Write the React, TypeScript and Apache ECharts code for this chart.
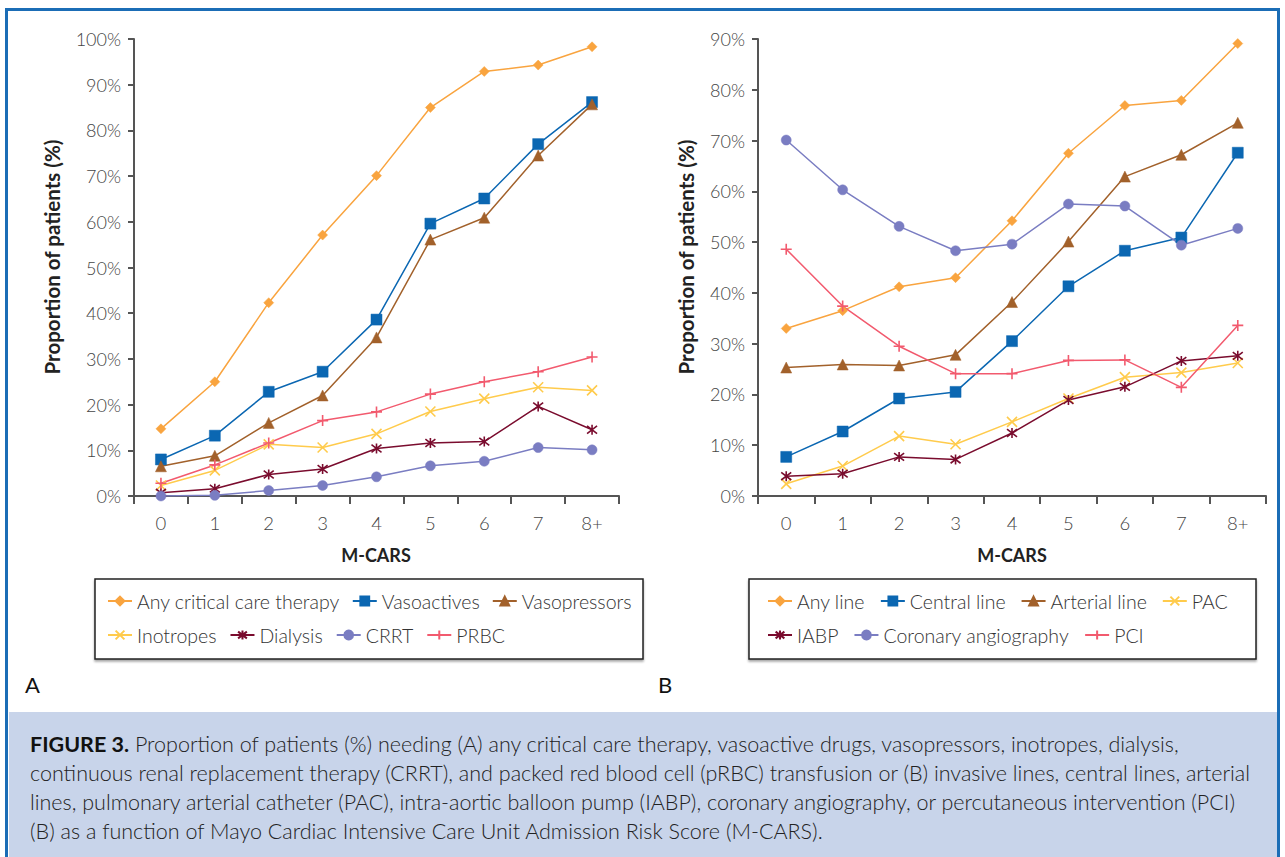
import React, { useEffect, useRef } from 'react';
import * as echarts from 'echarts';

const categories = ['0', '1', '2', '3', '4', '5', '6', '7', '8+'];

// Panel A
const anyCritical = [14.7, 25.0, 42.3, 57.1, 70.1, 85.0, 92.9, 94.3, 98.3];
const vasoactives = [8.0, 13.2, 22.8, 27.2, 38.6, 59.6, 65.1, 77.0, 86.2];
const vasopressors = [6.5, 8.8, 16.0, 22.0, 34.7, 56.1, 60.9, 74.5, 85.7];
const inotropes = [2.3, 5.6, 11.3, 10.6, 13.6, 18.5, 21.3, 23.8, 23.1];
const dialysis = [0.7, 1.6, 4.7, 5.9, 10.4, 11.6, 11.9, 19.6, 14.5];
const crrt = [0.0, 0.15, 1.2, 2.3, 4.2, 6.6, 7.6, 10.6, 10.1];
const prbc = [2.8, 6.8, 11.6, 16.5, 18.4, 22.3, 25.0, 27.2, 30.4];

// Panel B
const anyLine = [33.0, 36.5, 41.2, 43.0, 54.2, 67.5, 76.9, 77.9, 89.1];
const centralLine = [7.7, 12.7, 19.2, 20.5, 30.5, 41.3, 48.3, 50.9, 67.6];
const arterialLine = [25.3, 25.9, 25.7, 27.8, 38.2, 50.1, 62.9, 67.2, 73.5];
const pac = [2.4, 5.9, 11.8, 10.2, 14.6, 19.2, 23.4, 24.3, 26.2];
const iabp = [3.9, 4.4, 7.7, 7.2, 12.4, 18.9, 21.5, 26.6, 27.6];
const coronaryAngio = [70.1, 60.3, 53.1, 48.3, 49.6, 57.5, 57.1, 49.4, 52.7];
const pci = [48.6, 37.4, 29.5, 24.1, 24.1, 26.7, 26.8, 21.4, 33.6];

const legendA1 = ['Any critical care therapy', 'Vasoactives', 'Vasopressors'];
const legendA2 = ['Inotropes', 'Dialysis', 'CRRT', 'PRBC'];
const legendB1 = ['Any line', 'Central line', 'Arterial line', 'PAC'];
const legendB2 = ['IABP', 'Coronary angiography', 'PCI'];

const captionLines = [
  '{b|FIGURE 3.} Proportion of patients (%) needing (A) any critical care therapy, vasoactive drugs, vasopressors, inotropes, dialysis,',
  'continuous renal replacement therapy (CRRT), and packed red blood cell (pRBC) transfusion or (B) invasive lines, central lines, arterial',
  'lines, pulmonary arterial catheter (PAC), intra-aortic balloon pump (IABP), coronary angiography, or percutaneous intervention (PCI)',
  '(B) as a function of Mayo Cardiac Intensive Care Unit Admission Risk Score (M-CARS).',
];

const C_ORANGE = '#f9a43f';
const C_BLUE = '#0b67b2';
const C_BROWN = '#a2612b';
const C_YELLOW = '#ffcb4c';
const C_DARKRED = '#7a0c2e';
const C_PURPLE = '#7a7dc2';
const C_PINK = '#f25a6e';

const SYM_X = 'path://M0,0L10,10M10,0L0,10';
const SYM_AST = 'path://M1.2,1.2L8.8,8.8M8.8,1.2L1.2,8.8M5,0L5,10';
const SYM_PLUS = 'path://M0,5L10,5M5,0L5,10';

const FONT = 'Lato, "Open Sans", sans-serif';

function mk(name: string, data: number[], color: string, symbol: string, size: number, axis: number, stroke = false) {
  return {
    type: 'line',
    name,
    data,
    xAxisIndex: axis,
    yAxisIndex: axis,
    symbol,
    symbolSize: size,
    lineStyle: { color, width: 1.5 },
    itemStyle: { color, borderColor: color, borderWidth: stroke ? 1.6 : 0.5 },
    z: 3,
  };
}

function yAxis(gridIndex: number, max: number) {
  return {
    type: 'value',
    gridIndex,
    min: 0,
    max,
    interval: 10,
    axisLine: { show: true, lineStyle: { color: '#555', width: 2 } },
    axisTick: { show: true, length: 6, lineStyle: { color: '#555', width: 2 } },
    splitLine: { show: false },
    axisLabel: {
      formatter: '{value}%',
      color: '#444',
      fontFamily: FONT,
      fontSize: 18,
      fontWeight: 300,
      margin: 13,
    },
  };
}

function xAxis(gridIndex: number) {
  return {
    type: 'category',
    gridIndex,
    data: categories,
    boundaryGap: true,
    axisLine: { show: true, lineStyle: { color: '#555', width: 2 } },
    axisTick: { show: true, length: 8, interval: 0, lineStyle: { color: '#555', width: 2 } },
    axisLabel: {
      color: '#444',
      fontFamily: FONT,
      fontSize: 18.5,
      fontWeight: 300,
      margin: 17,
      interval: 0,
    },
  };
}

function legend(data: string[], left: number, top: number, itemGap: number) {
  return {
    data,
    left,
    top,
    orient: 'horizontal',
    padding: 0,
    itemGap,
    itemWidth: 24,
    itemHeight: 11,
    textStyle: { fontFamily: FONT, fontSize: 19.5, color: '#333', fontWeight: 300 },
  };
}

export default function App() {
  const ref = useRef<HTMLDivElement>(null);

  useEffect(() => {
    if (!ref.current) return;
    const chart = echarts.init(ref.current, null, { renderer: 'svg' });

    const graphics: any[] = [
      {
        type: 'rect',
        shape: { x: 9, y: 712, width: 1268, height: 150 },
        style: { fill: '#c8d4ea' },
        z: -1,
      },
      {
        type: 'rect',
        shape: { x: 6.5, y: 9.5, width: 1272, height: 870 },
        style: { fill: 'none', stroke: '#1b6db6', lineWidth: 3 },
        z: 10,
      },
      {
        type: 'rect',
        shape: { x: 95, y: 579, width: 548, height: 80 },
        style: { fill: '#fff', stroke: '#222', lineWidth: 1.5, shadowBlur: 2, shadowColor: 'rgba(0,0,0,0.35)', shadowOffsetY: 2 },
        z: -1,
      },
      {
        type: 'rect',
        shape: { x: 749, y: 579, width: 507, height: 80 },
        style: { fill: '#fff', stroke: '#222', lineWidth: 1.5, shadowBlur: 2, shadowColor: 'rgba(0,0,0,0.35)', shadowOffsetY: 2 },
        z: -1,
      },
      {
        type: 'text',
        x: 52,
        y: 257,
        rotation: Math.PI / 2,
        style: { text: 'Proportion of patients (%)', fontFamily: FONT, fontSize: 20.5, fontWeight: 'bold', fill: '#222', align: 'center', verticalAlign: 'middle' },
      },
      {
        type: 'text',
        x: 686,
        y: 257,
        rotation: Math.PI / 2,
        style: { text: 'Proportion of patients (%)', fontFamily: FONT, fontSize: 20.5, fontWeight: 'bold', fill: '#222', align: 'center', verticalAlign: 'middle' },
      },
      {
        type: 'text',
        x: 376,
        y: 555,
        style: { text: 'M-CARS', fontFamily: FONT, fontSize: 18, fontWeight: 'bold', fill: '#222', align: 'center', verticalAlign: 'middle' },
      },
      {
        type: 'text',
        x: 1012,
        y: 555,
        style: { text: 'M-CARS', fontFamily: FONT, fontSize: 18, fontWeight: 'bold', fill: '#222', align: 'center', verticalAlign: 'middle' },
      },
      {
        type: 'text',
        x: 25,
        y: 684,
        style: { text: 'A', fontFamily: FONT, fontSize: 22, fill: '#111', align: 'left', verticalAlign: 'middle' },
      },
      {
        type: 'text',
        x: 658,
        y: 684,
        style: { text: 'B', fontFamily: FONT, fontSize: 22, fill: '#111', align: 'left', verticalAlign: 'middle' },
      },
    ];

    captionLines.forEach((line, i) => {
      graphics.push({
        type: 'text',
        x: 30,
        y: 744 + i * 29,
        style: {
          text: line,
          fontFamily: FONT,
          fontSize: 21.5,
          fontWeight: 300,
          fill: '#222',
          align: 'left',
          verticalAlign: 'middle',
          rich: {
            b: { fontFamily: FONT, fontSize: 21.5, fontWeight: 'bold', fill: '#111' },
          },
        },
      });
    });

    const option: any = {
      animation: false,
      backgroundColor: '#fff',
      grid: [
        { left: 134, top: 39, width: 485, height: 457 },
        { left: 758, top: 39, width: 508, height: 457 },
      ],
      xAxis: [xAxis(0), xAxis(1)],
      yAxis: [yAxis(0, 100), yAxis(1, 90)],
      legend: [
        legend(legendA1, 107, 591, 12),
        legend(legendA2, 107, 625, 13),
        legend(legendB1, 767, 591, 15),
        legend(legendB2, 767, 625, 15),
      ],
      series: [
        mk('Any critical care therapy', anyCritical, C_ORANGE, 'diamond', 10, 0),
        mk('Vasoactives', vasoactives, C_BLUE, 'rect', 11, 0),
        mk('Vasopressors', vasopressors, C_BROWN, 'triangle', 11, 0),
        mk('Inotropes', inotropes, C_YELLOW, SYM_X, 10, 0, true),
        mk('Dialysis', dialysis, C_DARKRED, SYM_AST, 10, 0, true),
        mk('CRRT', crrt, C_PURPLE, 'circle', 10, 0),
        mk('PRBC', prbc, C_PINK, SYM_PLUS, 11, 0, true),
        mk('Any line', anyLine, C_ORANGE, 'diamond', 10, 1),
        mk('Central line', centralLine, C_BLUE, 'rect', 11, 1),
        mk('Arterial line', arterialLine, C_BROWN, 'triangle', 11, 1),
        mk('PAC', pac, C_YELLOW, SYM_X, 10, 1, true),
        mk('IABP', iabp, C_DARKRED, SYM_AST, 10, 1, true),
        mk('Coronary angiography', coronaryAngio, C_PURPLE, 'circle', 10, 1),
        mk('PCI', pci, C_PINK, SYM_PLUS, 11, 1, true),
      ],
      graphic: graphics,
    };

    chart.setOption(option);
    return () => chart.dispose();
  }, []);

  return (
    <div
      ref={ref}
      style={{ position: 'fixed', left: 0, top: 0, width: 1285, height: 857 }}
    />
  );
}
